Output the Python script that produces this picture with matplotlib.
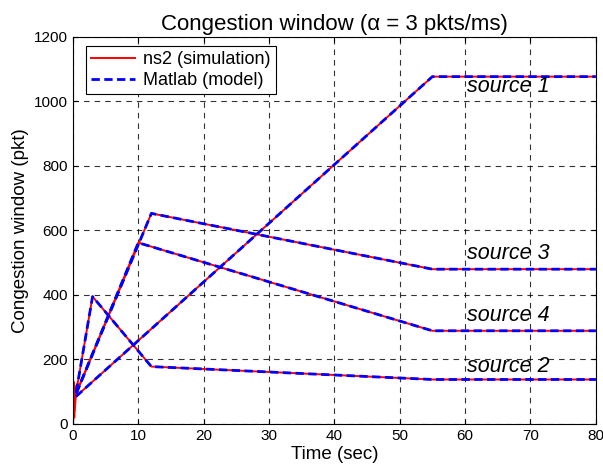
import matplotlib
matplotlib.use("Agg")
import matplotlib.pyplot as plt

plt.rcParams['font.family'] = ['Liberation Sans', 'DejaVu Sans']

# ns2 simulation traces (time in sec, cwnd in pkt)
s1_ns2_t = [0, 0.1, 0.2, 0.3, 0.45, 55, 80]
s1_ns2_w = [0, 120, 20, 110, 85, 1077, 1077]
s2_ns2_t = [0, 0.15, 0.25, 0.5, 3, 12, 55, 80]
s2_ns2_w = [0, 130, 40, 100, 395, 178, 138, 138]
s3_ns2_t = [0, 0.2, 0.5, 12, 55, 80]
s3_ns2_w = [0, 110, 95, 653, 480, 480]
s4_ns2_t = [0, 0.25, 0.5, 10, 55, 80]
s4_ns2_w = [0, 120, 95, 562, 289, 289]

# Matlab model traces
s1_mod_t = [0.45, 55, 80]
s1_mod_w = [85, 1077, 1077]
s2_mod_t = [0.5, 3, 12, 55, 80]
s2_mod_w = [100, 395, 178, 138, 138]
s3_mod_t = [0.5, 12, 55, 80]
s3_mod_w = [95, 653, 480, 480]
s4_mod_t = [0.5, 10, 55, 80]
s4_mod_w = [95, 562, 289, 289]

labels = ['source 1', 'source 3', 'source 4', 'source 2']
label_y = [1045, 530, 335, 177]

fig = plt.figure(figsize=(6.03, 4.72), dpi=100)
ax = fig.add_axes([0.121, 0.1017, 0.867, 0.82])

ns2 = [(s1_ns2_t, s1_ns2_w), (s2_ns2_t, s2_ns2_w), (s3_ns2_t, s3_ns2_w), (s4_ns2_t, s4_ns2_w)]
mod = [(s1_mod_t, s1_mod_w), (s2_mod_t, s2_mod_w), (s3_mod_t, s3_mod_w), (s4_mod_t, s4_mod_w)]

for i, (t, w) in enumerate(ns2):
    ax.plot(t, w, color='red', lw=1.4, label='ns2 (simulation)' if i == 0 else None)
for i, (t, w) in enumerate(mod):
    ax.plot(t, w, color='blue', lw=2.0, ls=(0, (3, 1.6)), label='Matlab (model)' if i == 0 else None)

for lab, y in zip(labels, label_y):
    ax.text(60.3, y, lab, fontsize=15.5, style='italic', va='center')

ax.set_xlim(0, 80)
ax.set_ylim(0, 1200)
ax.set_xticks(range(0, 81, 10))
ax.set_yticks(range(0, 1201, 200))
ax.grid(True, color='black', ls=(0, (5, 4.5)), lw=0.8, alpha=0.8)
ax.tick_params(direction='in', top=True, right=True, labelsize=11)
ax.set_title('Congestion window (\u03b1 = 3 pkts/ms)', fontsize=16, pad=5)
ax.set_xlabel('Time (sec)', fontsize=13.5, labelpad=2)
ax.set_ylabel('Congestion window (pkt)', fontsize=13.5, labelpad=4)

leg = ax.legend(loc='upper left', bbox_to_anchor=(0.025, 0.977), fontsize=13,
                fancybox=False, framealpha=1, edgecolor='black', handlelength=2.4,
                handletextpad=0.45, borderpad=0.3, labelspacing=0.2, borderaxespad=0)
leg.get_frame().set_linewidth(0.8)

fig.savefig('out.png', dpi=100)
